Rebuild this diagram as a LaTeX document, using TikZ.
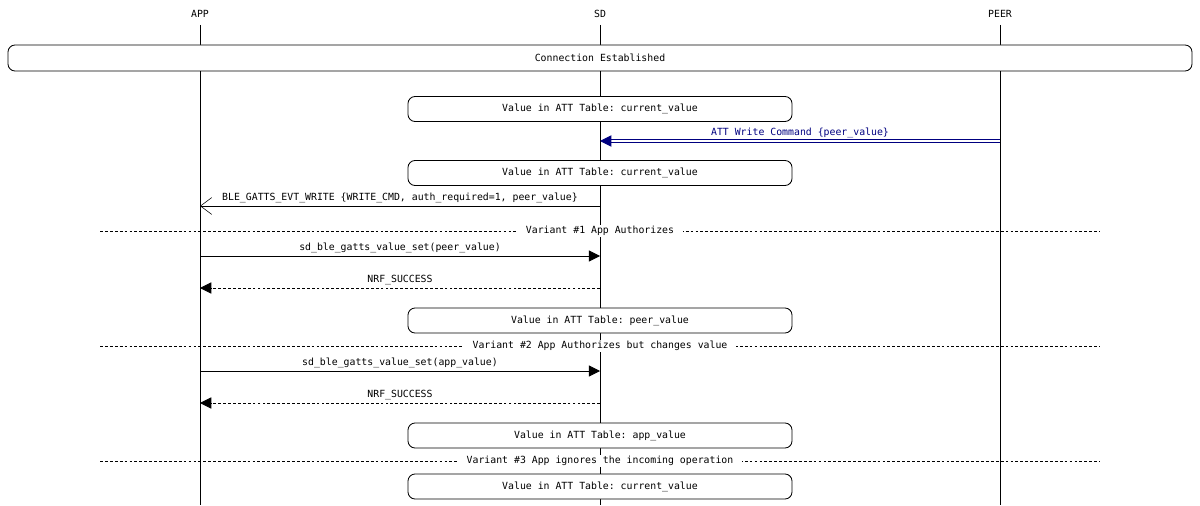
\documentclass[tikz,border=0pt]{standalone}
\usepackage{fontspec}
\setmonofont{DejaVu Sans Mono}
\usetikzlibrary{arrows.meta}
\tikzset{
  txt/.style={font=\ttfamily\fontsize{7}{8}\selectfont, inner sep=1pt},
  lifeline/.style={line width=0.6pt},
  state/.style={draw, rounded corners=5pt, line width=0.6pt},
  msg/.style={line width=0.6pt, -{Triangle[length=8pt,width=8pt]}},
  reply/.style={msg, dash pattern=on 2pt off 1.5pt},
  event/.style={line width=0.6pt, -{Straight Barb[length=8pt,width=12pt,line width=0.4pt]}},
  peermsg/.style={draw=blue!50!black, double=white, double distance=1.2pt, line width=0.7pt, -{Triangle[length=8pt,width=8pt,fill=blue!50!black]}},
  divider/.style={line width=0.5pt, dash pattern=on 2pt off 1.5pt}
}
\begin{document}
\begin{tikzpicture}[x=0.025cm,y=-0.025cm]
\useasboundingbox (0,0) rectangle (1200,505);
% lifelines
\foreach \name/\x in {APP/200,SD/600,PEER/1000}{
  \node[txt] (\name) at (\x,14) {\name};
  \coordinate (\name end) at (\x,505);
  \draw[lifeline] (\x,25) -- (\name end);
}
\coordinate (app) at (200,0); \coordinate (sd) at (600,0); \coordinate (peer) at (1000,0);
% states
\node[state, txt, minimum width=1184*0.025cm, minimum height=26*0.025cm, fill=white] (conn) at (600,58) {Connection Established};
\foreach \n/\y/\t in {s1/109/current\_value, s2/173/current\_value, s3/320.5/peer\_value, s4/435.5/app\_value, s5/486.5/current\_value}
  \node[state, txt, fill=white, minimum width=384*0.025cm, minimum height=25*0.025cm] (\n) at (600,\y) {Value in ATT Table: \t};
% messages
\coordinate (w1) at (1000,141); \coordinate (w2) at (600,141);
\draw[peermsg] (w1) -- node[txt, text=blue!50!black, above=1pt] {ATT Write Command \{peer\_value\}} (w2);
\coordinate (e1) at (600,206); \coordinate (e2) at (200,206);
\draw[event] (e1) -- node[txt, above=1pt] {BLE\_GATTS\_EVT\_WRITE \{WRITE\_CMD, auth\_required=1, peer\_value\}} (e2);
\coordinate (c1) at (200,256); \coordinate (c2) at (600,256);
\draw[msg] (c1) -- node[txt, above=1pt] {sd\_ble\_gatts\_value\_set(peer\_value)} (c2);
\coordinate (r1) at (600,288); \coordinate (r2) at (200,288);
\draw[reply] (r1) -- node[txt, above=1pt] {NRF\_SUCCESS} (r2);
\coordinate (c3) at (200,371); \coordinate (c4) at (600,371);
\draw[msg] (c3) -- node[txt, above=1pt] {sd\_ble\_gatts\_value\_set(app\_value)} (c4);
\coordinate (r3) at (600,403); \coordinate (r4) at (200,403);
\draw[reply] (r3) -- node[txt, above=1pt] {NRF\_SUCCESS} (r4);
% variants
\foreach \n/\y/\t in {v1/231/Variant \#1 App Authorizes, v2/346/Variant \#2 App Authorizes but changes value, v3/461/Variant \#3 App ignores the incoming operation}{
  \coordinate (\n l) at (100,\y); \coordinate (\n r) at (1100,\y);
  \draw[divider] (\n l) -- node[txt, fill=white, inner xsep=6pt] {\t} (\n r);
}
\end{tikzpicture}
\end{document}
